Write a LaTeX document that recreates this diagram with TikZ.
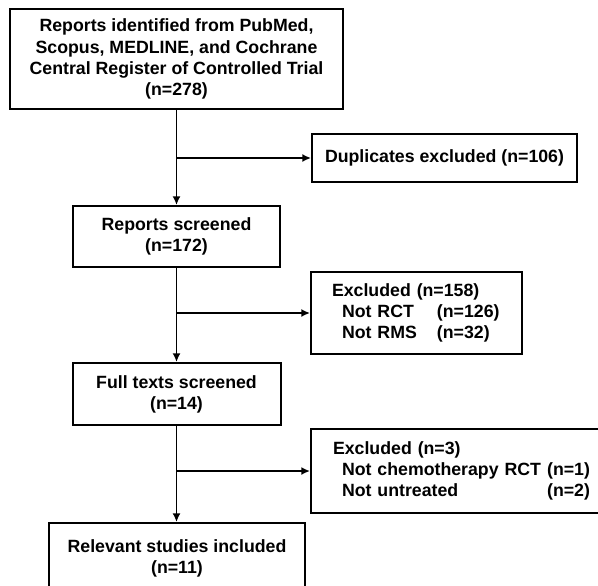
\documentclass[tikz,border=0pt]{standalone}
\usepackage{fontspec}
\setmainfont{Liberation Sans}
\usepackage{xcolor}
\usepackage{tikz}
\usetikzlibrary{arrows.meta}

\begin{document}
\begin{tikzpicture}[x=.75pt,y=-.75pt,font=\fontsize{13.3pt}{15.8pt}\selectfont\bfseries,
    box/.style={draw,line width=1.5pt,inner sep=0pt,align=center},
    arr/.style={line width=1.45pt,-{Latex[length=6.5pt,width=6pt]}}]
    \useasboundingbox (0,0) rectangle (598,585);
    \clip (0,0) rectangle (598,585);
    \node[box,minimum width=249.75pt,minimum height=75pt] (rep) at (176.5,59)
      {Reports identified from PubMed,\\Scopus, MEDLINE, and Cochrane\\Central Register of Controlled Trial\\(n=278)};
    \node[box,minimum width=198.75pt,minimum height=36pt] (dup) at (444.5,158) {Duplicates excluded (n=106)};
    \node[box,minimum width=155.25pt,minimum height=45.75pt] (scr) at (176.5,236.5) {Reports screened\\(n=172)};
    \node[box,anchor=north west,minimum height=61.5pt,inner xsep=15.75pt,text width=126.75pt,align=left] (exa) at (310,271)
      {Excluded (n=158)\\\hspace*{7.5pt}\makebox[71.25pt][l]{Not RCT}(n=126)\\\hspace*{7.5pt}\makebox[71.25pt][l]{Not RMS}(n=32)};
    \node[box,minimum width=156pt,minimum height=46.5pt] (full) at (176.5,394) {Full texts screened\\(n=14)};
    \node[box,anchor=north west,minimum height=63pt,inner xsep=16.5pt,text width=199.5pt,align=left] (exb) at (310,428)
      {Excluded (n=3)\\\hspace*{6.75pt}\makebox[186pt][l]{Not chemotherapy RCT\hfill(n=1)}\\\hspace*{6.75pt}\makebox[186pt][l]{Not untreated\hfill(n=2)}};
    \node[box,anchor=north west,minimum width=192pt,minimum height=52.5pt] (incl) at (48,522) {Relevant studies included\\(n=11)};
    % trunk
    \draw[arr] (rep.south) -- (scr.north);
    \draw[arr] (scr.south) -- (full.north);
    \draw[arr] (full.south) -- (full.south |- incl.north);
    % side branches
    \draw[arr] (rep.south |- dup.west) -- (dup.west);
    \draw[arr] (scr.south |- exa.west) -- (exa.west);
    \draw[arr] (full.south |- exb.west) -- (exb.west);
  \end{tikzpicture}
\end{document}
